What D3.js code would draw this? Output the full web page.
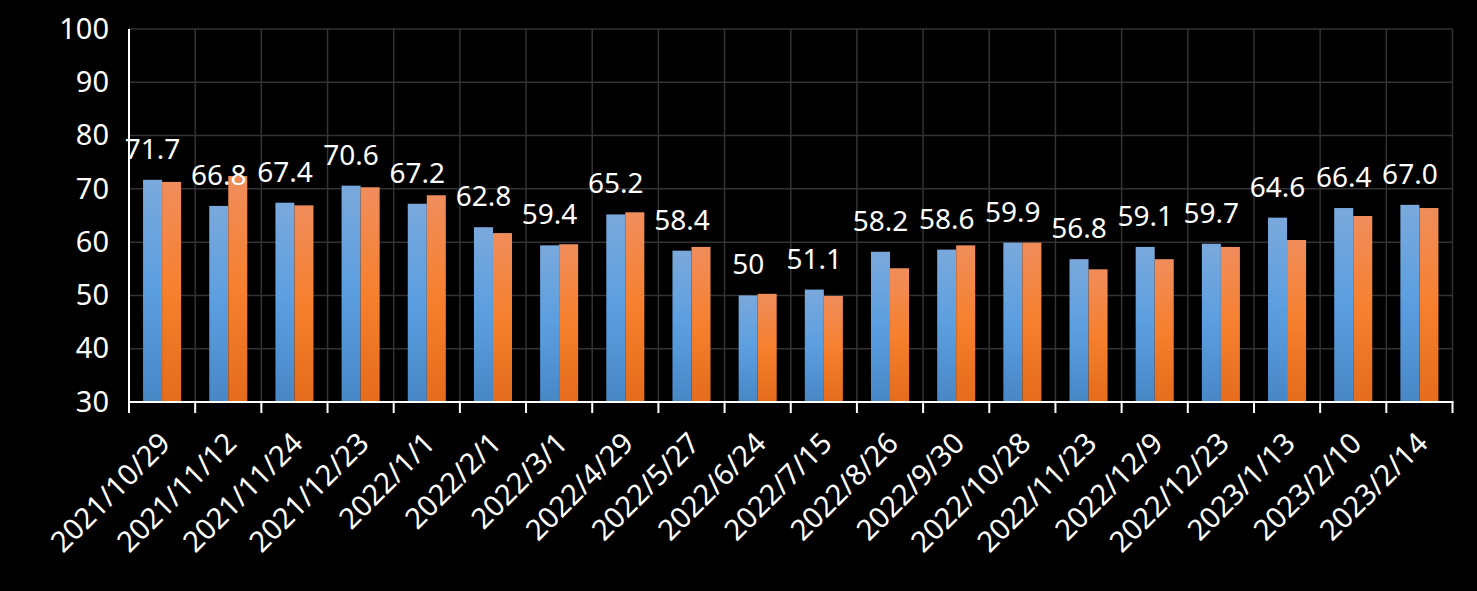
<!DOCTYPE html>
<html>
<head>
<meta charset="utf-8">
<script src="https://cdn.jsdelivr.net/npm/d3@7"></script>
<style>
html,body{margin:0;padding:0;background:#000;}
svg{display:block;}
text{font-family:"Noto Sans","Open Sans",sans-serif;fill:#fff;}
</style>
</head>
<body>
<svg id="chart" width="1477" height="591"></svg>
<script>
const categories = ["2021/10/29","2021/11/12","2021/11/24","2021/12/23","2022/1/1","2022/2/1","2022/3/1","2022/4/29","2022/5/27","2022/6/24","2022/7/15","2022/8/26","2022/9/30","2022/10/28","2022/11/23","2022/12/9","2022/12/23","2023/1/13","2023/2/10","2023/2/14"];
const blueValues = [71.7,66.8,67.4,70.6,67.2,62.8,59.4,65.2,58.4,50,51.1,58.2,58.6,59.9,56.8,59.1,59.7,64.6,66.4,67.0];
const blueLabels = ["71.7","66.8","67.4","70.6","67.2","62.8","59.4","65.2","58.4","50","51.1","58.2","58.6","59.9","56.8","59.1","59.7","64.6","66.4","67.0"];
const orangeValues = [71.3,72.4,66.9,70.3,68.8,61.7,59.6,65.6,59.1,50.3,49.9,55.1,59.4,59.9,54.9,56.8,59.1,60.4,64.9,66.4];
const yTicks = [30,40,50,60,70,80,90,100];

(function(){
const svg = d3.select("#chart");
svg.append("rect").attr("width",1477).attr("height",591).attr("fill","#000");

const pl = 129, pr = 1452.5, pt = 29, pb = 402;
const x = d3.scaleBand().domain(categories).range([pl,pr]).paddingInner(0).paddingOuter(0);
const y = d3.scaleLinear().domain([30,100]).range([pb,pt]);
const bw = x.bandwidth();
const barW = bw*0.2875;
const off = bw*0.2125;

const defs = svg.append("defs");
function grad(id, stops){
  const g = defs.append("linearGradient").attr("id",id).attr("x1",0).attr("y1",0).attr("x2",0).attr("y2",1);
  stops.forEach(s=>g.append("stop").attr("offset",s[0]).attr("stop-color",s[1]));
}
grad("gBlue",[[0,"#7aa9dc"],[0.5,"#5b9ee0"],[1,"#4887c6"]]);
grad("gOrange",[[0,"#f08d5c"],[0.5,"#f6802e"],[1,"#e46c1c"]]);

// horizontal gridlines
svg.append("g").selectAll("line").data(yTicks.filter(t=>t>30)).join("line")
  .attr("x1",pl).attr("x2",pr).attr("y1",d=>y(d)).attr("y2",d=>y(d))
  .attr("stroke","#333").attr("stroke-width",1.5);
// vertical gridlines
svg.append("g").selectAll("line").data(categories).join("line")
  .attr("x1",d=>x(d)+bw).attr("x2",d=>x(d)+bw).attr("y1",pt).attr("y2",pb)
  .attr("stroke","#333").attr("stroke-width",1.5);

// bars
svg.append("g").selectAll("rect").data(categories).join("rect")
  .attr("x",d=>x(d)+off).attr("width",barW)
  .attr("y",(d,i)=>y(blueValues[i])).attr("height",(d,i)=>pb-y(blueValues[i]))
  .attr("fill","url(#gBlue)");
svg.append("g").selectAll("rect").data(categories).join("rect")
  .attr("x",d=>x(d)+off+barW).attr("width",barW)
  .attr("y",(d,i)=>y(orangeValues[i])).attr("height",(d,i)=>pb-y(orangeValues[i]))
  .attr("fill","url(#gOrange)");

// axes
const yAxis = d3.axisLeft(y).tickValues(yTicks).tickSize(0).tickPadding(20);
const gy = svg.append("g").attr("transform",`translate(${pl},0)`).call(yAxis);
gy.select(".domain").remove();
gy.selectAll("text").attr("font-size",29).attr("font-family",'"Noto Sans",sans-serif').attr("fill","#fff");

svg.append("line").attr("x1",pl).attr("x2",pl).attr("y1",pt).attr("y2",413)
  .attr("stroke","#fff").attr("stroke-width",2);
svg.append("line").attr("x1",pl).attr("x2",pr+1).attr("y1",pb).attr("y2",pb)
  .attr("stroke","#fff").attr("stroke-width",2);
const bounds = [x(categories[0])].concat(categories.map(d=>x(d)+bw));
svg.append("g").selectAll("line").data(bounds).join("line")
  .attr("x1",d=>d).attr("x2",d=>d).attr("y1",pb).attr("y2",413)
  .attr("stroke","#fff").attr("stroke-width",2);

// x labels
svg.append("g").selectAll("text").data(categories).join("text")
  .attr("transform",d=>`translate(${x(d)+bw/2+10},445) rotate(-45)`)
  .attr("text-anchor","end").attr("font-size",29)
  .text(d=>d);

// data labels
svg.append("g").selectAll("text").data(categories).join("text")
  .attr("x",d=>x(d)+off+barW/2)
  .attr("y",(d,i)=>y(blueValues[i])-21)
  .attr("text-anchor","middle").attr("font-size",28)
  .text((d,i)=>blueLabels[i]);
})();
</script>
</body>
</html>
